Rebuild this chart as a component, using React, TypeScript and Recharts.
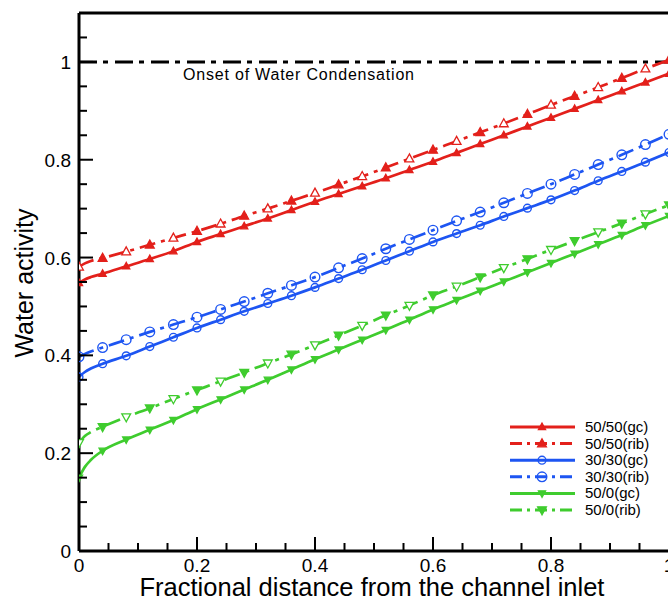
import React from 'react';
import { LineChart, Line, XAxis, YAxis, ReferenceLine, Legend } from 'recharts';

const X = [0, 0.01, 0.02, 0.04, 0.08, 0.12, 0.16, 0.2, 0.24, 0.28, 0.32, 0.36, 0.4, 0.44, 0.48, 0.52, 0.56, 0.6, 0.64, 0.68, 0.72, 0.76, 0.8, 0.84, 0.88, 0.92, 0.96, 1.0];
const GC_5050 = [0.548, 0.555, 0.56, 0.567, 0.582, 0.597, 0.613, 0.632, 0.648, 0.664, 0.68, 0.697, 0.714, 0.73, 0.746, 0.762, 0.779, 0.796, 0.814, 0.832, 0.85, 0.868, 0.886, 0.904, 0.922, 0.94, 0.958, 0.976];
const RIB_5050 = [0.581, 0.588, 0.593, 0.599, 0.612, 0.626, 0.64, 0.654, 0.669, 0.685, 0.7, 0.716, 0.732, 0.749, 0.766, 0.784, 0.802, 0.82, 0.838, 0.856, 0.874, 0.893, 0.912, 0.93, 0.948, 0.967, 0.986, 1.004];
const GC_3030 = [0.356, 0.366, 0.373, 0.383, 0.399, 0.418, 0.437, 0.456, 0.473, 0.49, 0.506, 0.522, 0.539, 0.557, 0.575, 0.594, 0.613, 0.632, 0.649, 0.666, 0.684, 0.701, 0.718, 0.737, 0.757, 0.776, 0.795, 0.815];
const RIB_3030 = [0.397, 0.403, 0.408, 0.416, 0.432, 0.448, 0.463, 0.478, 0.494, 0.51, 0.527, 0.543, 0.56, 0.579, 0.598, 0.618, 0.637, 0.656, 0.675, 0.693, 0.712, 0.731, 0.75, 0.77, 0.79, 0.81, 0.831, 0.852];
const GC_500 = [0.15, 0.172, 0.186, 0.205, 0.228, 0.248, 0.268, 0.29, 0.31, 0.33, 0.35, 0.371, 0.392, 0.412, 0.432, 0.452, 0.473, 0.494, 0.513, 0.532, 0.551, 0.57, 0.589, 0.608, 0.627, 0.646, 0.666, 0.685];
const RIB_500 = [0.221, 0.235, 0.243, 0.254, 0.274, 0.292, 0.311, 0.329, 0.347, 0.365, 0.384, 0.402, 0.421, 0.441, 0.461, 0.482, 0.502, 0.523, 0.541, 0.56, 0.579, 0.597, 0.616, 0.634, 0.652, 0.67, 0.689, 0.707];

const X_TICKS = [0, 0.05, 0.1, 0.15, 0.2, 0.25, 0.3, 0.35, 0.4, 0.45, 0.5, 0.55, 0.6, 0.65, 0.7, 0.75, 0.8, 0.85, 0.9, 0.95, 1];
const Y_TICKS = [0, 0.05, 0.1, 0.15, 0.2, 0.25, 0.3, 0.35, 0.4, 0.45, 0.5, 0.55, 0.6, 0.65, 0.7, 0.75, 0.8, 0.85, 0.9, 0.95, 1, 1.05];
const MAJOR_LABELS: Record<string, string> = { '0': '0', '0.2': '0.2', '0.4': '0.4', '0.6': '0.6', '0.8': '0.8', '1': '1' };

const RED = '#e3201b';
const BLUE = '#1d55f2';
const GREEN = '#3fcc2e';

type Shape = 'up' | 'circle' | 'down';
const SERIES = [
  { key: 'gc5050', name: '50/50(gc)', values: GC_5050, color: RED, dash: undefined as string | undefined, shape: 'up' as Shape, rib: false },
  { key: 'rib5050', name: '50/50(rib)', values: RIB_5050, color: RED, dash: '16 6 4 6', shape: 'up' as Shape, rib: true },
  { key: 'gc3030', name: '30/30(gc)', values: GC_3030, color: BLUE, dash: undefined, shape: 'circle' as Shape, rib: false },
  { key: 'rib3030', name: '30/30(rib)', values: RIB_3030, color: BLUE, dash: '16 6 4 6', shape: 'circle' as Shape, rib: true },
  { key: 'gc500', name: '50/0(gc)', values: GC_500, color: GREEN, dash: undefined, shape: 'down' as Shape, rib: false },
  { key: 'rib500', name: '50/0(rib)', values: RIB_500, color: GREEN, dash: '16 6 4 6', shape: 'down' as Shape, rib: true },
];

const data = X.map((x, i) => {
  const row: Record<string, number> = { x };
  SERIES.forEach((s) => { row[s.key] = s.values[i]; });
  return row;
});

const FONT = '"Liberation Sans", Arial, Helvetica, sans-serif';

function marker(cx: number, cy: number, shape: Shape, color: string, filled: boolean, size: number, key?: string) {
  const fill = filled ? color : '#ffffff';
  if (shape === 'circle') {
    return <circle key={key} cx={cx} cy={cy} r={size * 0.6} fill={filled ? color : 'none'} stroke={color} strokeWidth={1.4} />;
  }
  const h = size;
  const w = size * 1.1;
  const pts = shape === 'up'
    ? `${cx},${cy - h * 0.6} ${cx - w / 2},${cy + h * 0.4} ${cx + w / 2},${cy + h * 0.4}`
    : `${cx},${cy + h * 0.6} ${cx - w / 2},${cy - h * 0.4} ${cx + w / 2},${cy - h * 0.4}`;
  return <polygon key={key} points={pts} fill={fill} stroke={color} strokeWidth={1.3} />;
}

function makeDot(s: typeof SERIES[number]) {
  return (props: any) => {
    const { cx, cy, index, payload } = props;
    const k = `${s.key}-${index}`;
    const hundred = Math.round(payload.x * 100);
    if (hundred % 4 !== 0 || cx == null || cy == null) return <g key={k} />;
    const filled = s.shape === 'circle' ? false : s.rib ? index % 2 === 1 : true;
    const size = s.rib ? 8 : 6.5;
    return marker(cx, cy, s.shape, s.color, filled, size, k);
  };
}

const XTick = (props: any) => {
  const { x, y, payload } = props;
  const v = Math.round(payload.value * 100) / 100;
  const label = MAJOR_LABELS[String(v)];
  const major = label !== undefined;
  return (
    <g>
      <line x1={x} y1={y} x2={x} y2={y - (major ? 14 : 8)} stroke="#000" strokeWidth={2} />
      {major && (
        <text x={x} y={y + 21} textAnchor="middle" fontSize={19} fontFamily={FONT} fill="#000">{label}</text>
      )}
    </g>
  );
};

const YTick = (props: any) => {
  const { x, y, payload } = props;
  const v = Math.round(payload.value * 100) / 100;
  const label = MAJOR_LABELS[String(v)];
  const major = label !== undefined;
  return (
    <g>
      <line x1={x} y1={y} x2={x + (major ? 14 : 8)} y2={y} stroke="#000" strokeWidth={2} />
      {major && (
        <text x={x - 8} y={y + 7} textAnchor="end" fontSize={19} fontFamily={FONT} fill="#000">{label}</text>
      )}
    </g>
  );
};

const CondLabel = (props: any) => {
  const vb = props.viewBox || {};
  return (
    <text x={(vb.x || 0) + 104} y={(vb.y || 0) + 18} fontSize={16} letterSpacing={0.8} fontFamily={FONT} fill="#000">
      Onset of Water Condensation
    </text>
  );
};

const LegendBox = () => (
  <svg width={160} height={104} style={{ display: 'block' }}>
    {SERIES.map((s, i) => {
      const y = 9 + i * 16.6;
      return (
        <g key={s.key}>
          <line x1={5} y1={y} x2={70} y2={y} stroke={s.color} strokeWidth={3} strokeDasharray={s.dash ? '12 5 3 5' : undefined} />
          {marker(37, y, s.shape, s.color, s.shape !== 'circle', s.rib ? 8 : 6.5)}
          <text x={80} y={y + 5} fontSize={15} fontFamily={FONT} fill="#000">{s.name}</text>
        </g>
      );
    })}
  </svg>
);

export default function App() {
  return (
    <div style={{ position: 'absolute', left: 0, top: 0, width: 668, height: 600, overflow: 'hidden', background: '#fff', fontFamily: FONT }}>
      <LineChart width={680} height={600} data={data} margin={{ top: 13, right: 11, bottom: 48, left: 78 }}>
        <XAxis
          type="number"
          dataKey="x"
          domain={[0, 1]}
          ticks={X_TICKS}
          tick={<XTick />}
          tickLine={false}
          tickSize={0}
          tickMargin={0}
          height={1}
          axisLine={{ stroke: '#000', strokeWidth: 3 }}
          interval={0}
          allowDataOverflow
        />
        <YAxis
          type="number"
          domain={[0, 1.1]}
          ticks={Y_TICKS}
          tick={<YTick />}
          tickLine={false}
          tickSize={0}
          tickMargin={0}
          width={1}
          axisLine={{ stroke: '#000', strokeWidth: 3 }}
          interval={0}
          allowDataOverflow
        />
        <ReferenceLine y={1.1} stroke="#000" strokeWidth={3} />
        <ReferenceLine y={1} stroke="#000" strokeWidth={3} strokeDasharray="18 6 5 7" label={<CondLabel />} />
        {SERIES.map((s) => (
          <Line
            key={s.key}
            type="monotone"
            dataKey={s.key}
            name={s.name}
            stroke={s.color}
            strokeWidth={2.7}
            strokeDasharray={s.dash}
            dot={makeDot(s)}
            activeDot={false}
            isAnimationActive={false}
            legendType="none"
          />
        ))}
        <Legend
          layout="vertical"
          align="center"
          verticalAlign="middle"
          content={() => <LegendBox />}
          wrapperStyle={{ position: 'absolute', left: 505, top: 418, width: 160, height: 104 }}
        />
        <text x={372} y={596} textAnchor="middle" fontSize={25.5} fontFamily={FONT} fill="#000">
          Fractional distance from the channel inlet
        </text>
        <text x={33} y={283} textAnchor="middle" fontSize={25} fontFamily={FONT} fill="#000" transform="rotate(-90 33 283)">
          Water activity
        </text>
      </LineChart>
    </div>
  );
}
